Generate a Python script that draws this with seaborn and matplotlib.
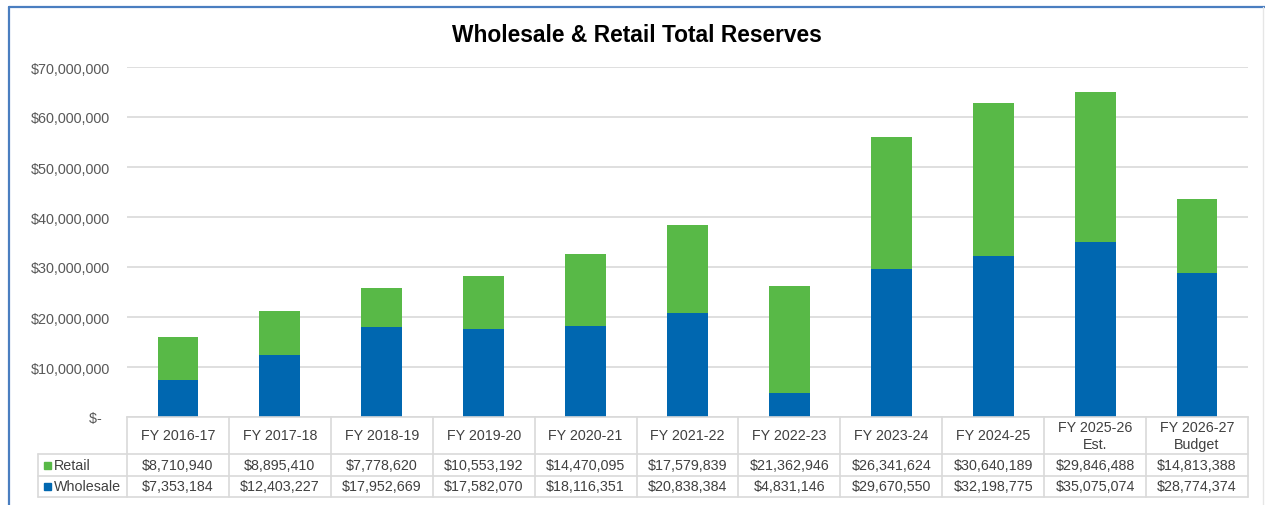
import matplotlib
matplotlib.use("Agg")
import matplotlib.pyplot as plt
from matplotlib.lines import Line2D
from matplotlib.patches import Rectangle
from matplotlib.ticker import FuncFormatter
import seaborn as sns
import pandas as pd

# ------------------- DATOS ------------------- #

categories = ["FY 2016-17", "FY 2017-18", "FY 2018-19", "FY 2019-20", "FY 2020-21",
              "FY 2021-22", "FY 2022-23", "FY 2023-24", "FY 2024-25",
              "FY 2025-26\nEst.", "FY 2026-27\nBudget"]
retail = [8710940, 8895410, 7778620, 10553192, 14470095, 17579839,
          21362946, 26341624, 30640189, 29846488, 14813388]
wholesale = [7353184, 12403227, 17952669, 17582070, 18116351, 20838384,
             4831146, 29670550, 32198775, 35075074, 28774374]
y_ticks = [0, 10000000, 20000000, 30000000, 40000000, 50000000, 60000000, 70000000]

GREEN = "#58B947"
BLUE = "#0067B0"
GRID = "#D9D9D9"
TEXT = "#404040"

df = pd.DataFrame({"cat": categories, "Retail": retail, "Wholesale": wholesale})
df["Total"] = df["Retail"] + df["Wholesale"]

# ------------------- FIGURA ------------------- #

sns.set_style("white")
plt.rcParams["font.family"] = ["Liberation Sans", "DejaVu Sans"]

W, H = 1265, 506
fig = plt.figure(figsize=(W / 100, H / 100), dpi=100)

def fx(px):
    return px / W

def fy(py):
    return 1 - py / H

x0, x1 = 127, 1248
y_top, y_base = 68, 418
ax = fig.add_axes([fx(x0), fy(y_base), fx(x1) - fx(x0), fy(y_top) - fy(y_base)])

# barras apiladas: total (verde) y mayorista encima (azul)
sns.barplot(data=df, x="cat", y="Total", color=GREEN, width=0.4,
            saturation=1, linewidth=0, ax=ax)
sns.barplot(data=df, x="cat", y="Wholesale", color=BLUE, width=0.4,
            saturation=1, linewidth=0, ax=ax)

ax.set_ylim(0, 70000000)
ax.set_xlim(-0.5, len(categories) - 0.5)
ax.set_yticks(y_ticks)
ax.yaxis.set_major_formatter(FuncFormatter(
    lambda v, p: "$-  " if v == 0 else f"${v:,.0f}"))
ax.tick_params(axis="y", length=0, pad=12.2, labelsize=10.4, labelcolor="#595959")
ax.set_xticks([])
ax.set_xlabel("")
ax.set_ylabel("")
ax.yaxis.grid(True, color=GRID, linewidth=1.2)
ax.set_axisbelow(True)
for s in ["top", "right", "left"]:
    ax.spines[s].set_visible(False)
ax.spines["bottom"].set_color(GRID)
ax.spines["bottom"].set_linewidth(1.2)

fig.text(fx(637), fy(35), "Wholesale & Retail Total Reserves", ha="center",
         va="center", fontsize=16.4, fontweight="bold", color="black")

# ------------------- TABLA DE DATOS ------------------- #

lab_x = 38
rows_y = [418, 455, 477, 498]
col_w = (x1 - x0) / len(categories)

def hline(y, xa, xb):
    fig.add_artist(Line2D([fx(xa), fx(xb)], [fy(y), fy(y)], color=GRID, lw=1.2))

def vline(x, ya, yb):
    fig.add_artist(Line2D([fx(x), fx(x)], [fy(ya), fy(yb)], color=GRID, lw=1.2))

hline(rows_y[1], lab_x, x1)
hline(rows_y[2], lab_x, x1)
hline(rows_y[3], lab_x, x1)
vline(lab_x, rows_y[1], rows_y[3])
for i in range(len(categories) + 1):
    vline(x0 + i * col_w, rows_y[0], rows_y[3])

for i, c in enumerate(categories):
    cx = x0 + (i + 0.5) * col_w
    fig.text(fx(cx), fy((rows_y[0] + rows_y[1]) / 2), c, ha="center", va="center",
             fontsize=10.3, color=TEXT, linespacing=1.3)
    fig.text(fx(cx), fy((rows_y[1] + rows_y[2]) / 2), f"${retail[i]:,}",
             ha="center", va="center", fontsize=10.3, color=TEXT)
    fig.text(fx(cx), fy((rows_y[2] + rows_y[3]) / 2), f"${wholesale[i]:,}",
             ha="center", va="center", fontsize=10.3, color=TEXT)

for name, col, ya, yb in [("Retail", GREEN, rows_y[1], rows_y[2]),
                          ("Wholesale", BLUE, rows_y[2], rows_y[3])]:
    cy = (ya + yb) / 2
    fig.add_artist(Rectangle((fx(44), fy(cy + 3.5)), fx(7), 7 / H,
                             color=col, transform=fig.transFigure))
    fig.text(fx(54), fy(cy), name, ha="left", va="center",
             fontsize=10.3, color=TEXT)

# ------------------- MARCO ------------------- #

fig.add_artist(Line2D([fx(9), fx(9)], [fy(8), 0], color="#4A7EC0", lw=1.6))
fig.add_artist(Line2D([fx(9), 1], [fy(8), fy(8)], color="#4A7EC0", lw=1.6))
fig.add_artist(Line2D([fx(1263), fx(1263)], [fy(8), 0], color="#E6E6E6", lw=1))

fig.savefig("out.png", dpi=100)
plt.close()
